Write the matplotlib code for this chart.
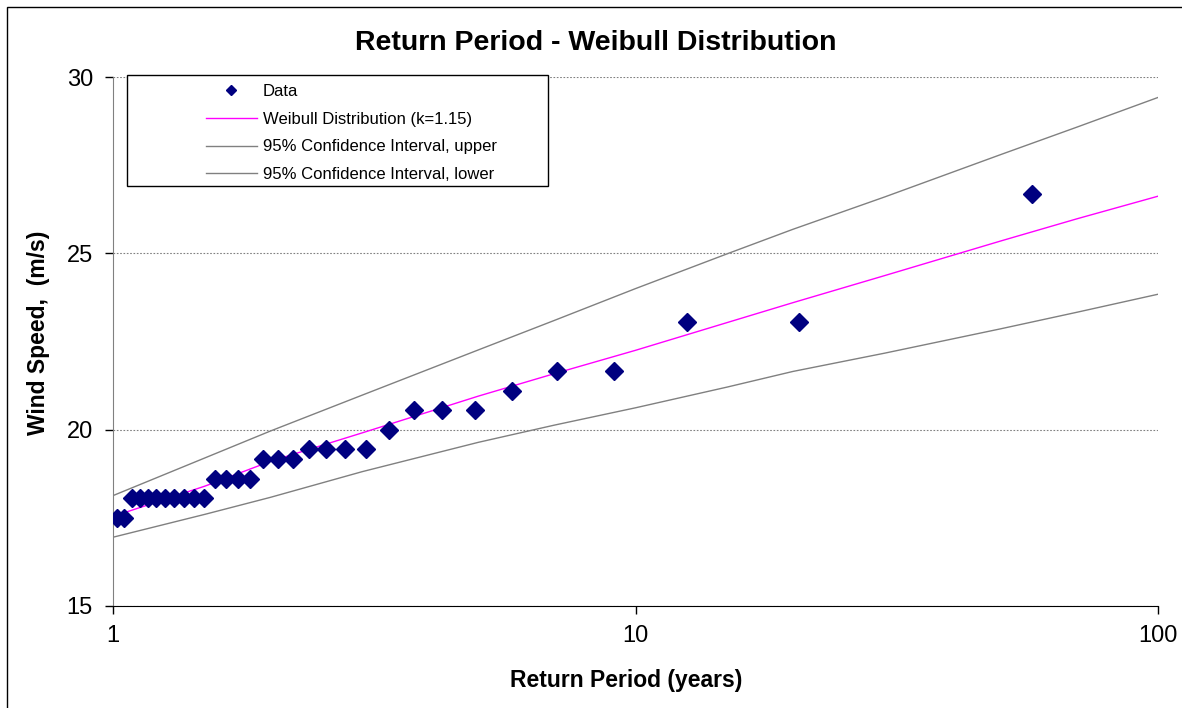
import matplotlib.pyplot as plt
from matplotlib.patches import Rectangle
from matplotlib.ticker import FixedLocator, NullLocator, FixedFormatter

plt.rcParams['font.family'] = ['Liberation Sans', 'DejaVu Sans']

# ranked annual maximum wind speeds (m/s) against return period (years)
period = [57.36, 20.59, 12.55, 9.093, 7.088, 5.807, 4.919, 4.266, 3.765, 3.369,
          3.049, 2.784, 2.562, 2.371, 2.208, 2.066, 1.941, 1.831, 1.733, 1.645,
          1.566, 1.493, 1.427, 1.366, 1.310, 1.259, 1.211, 1.167, 1.126, 1.087,
          1.051, 1.018]
speed = [26.67, 23.06, 23.06, 21.67, 21.67, 21.11, 20.56, 20.56, 20.56, 20.00,
         19.44, 19.44, 19.44, 19.44, 19.17, 19.17, 19.17, 18.61, 18.61, 18.61,
         18.61, 18.06, 18.06, 18.06, 18.06, 18.06, 18.06, 18.06, 18.06, 18.06,
         17.50, 17.50]

# fitted curve and confidence bands
fit_period = [1, 1.5, 2, 3, 5, 7, 10, 15, 20, 30, 50, 70, 100]
fit_speed = [17.54, 18.40, 19.10, 19.91, 20.95, 21.59, 22.25, 23.04, 23.60,
             24.37, 25.35, 25.98, 26.62]
ci_upper = [18.13, 19.20, 19.96, 20.98, 22.26, 23.10, 24.00, 24.99, 25.68,
            26.60, 27.80, 28.58, 29.42]
ci_lower = [16.95, 17.60, 18.08, 18.81, 19.64, 20.13, 20.62, 21.21, 21.65,
            22.17, 22.86, 23.33, 23.84]

W, H = 1182, 708


def fx(px):
    return px / W


def fy(py):
    return 1 - py / H


fig = plt.figure(figsize=(W / 100, H / 100), dpi=100)
# chart-area border
fig.patches.append(Rectangle((fx(7), -0.1), 1.2, fy(7) + 0.1,
                             transform=fig.transFigure, fill=False,
                             edgecolor='black', linewidth=1.0))
ax = fig.add_axes([fx(113), fy(606), fx(1158) - fx(113), fy(77) - fy(606)])

ax.plot(period, speed, 'D', color='#000080', markersize=9.5, linestyle='none',
        label='Data', zorder=4)
ax.plot(fit_period, fit_speed, color='#FF00FF', linewidth=1.0,
        label='Weibull Distribution (k=1.15)', zorder=3)
ax.plot(fit_period, ci_upper, color='#808080', linewidth=1.0,
        label='95% Confidence Interval, upper', zorder=3)
ax.plot(fit_period, ci_lower, color='#808080', linewidth=1.0,
        label='95% Confidence Interval, lower', zorder=3)

ax.set_xscale('log')
ax.set_xlim(1, 100)
ax.set_ylim(15, 30)
ax.xaxis.set_major_locator(FixedLocator([1, 10, 100]))
ax.xaxis.set_major_formatter(FixedFormatter(['1', '10', '100']))
ax.xaxis.set_minor_locator(NullLocator())
ax.set_yticks([15, 20, 25, 30])

ax.grid(axis='y', color='#808080', linestyle=(0, (1.5, 1.5)), linewidth=0.8)
ax.set_axisbelow(True)
for side in ['top', 'right']:
    ax.spines[side].set_visible(False)
ax.spines['left'].set_color('#808080')
ax.spines['bottom'].set_color('black')
ax.tick_params(axis='both', direction='out', length=5.5, width=1, labelsize=17,
               colors='black')
ax.tick_params(axis='x', pad=8)
ax.tick_params(axis='y', pad=9)

fig.text(fx(596), fy(43), 'Return Period - Weibull Distribution', fontsize=20.5,
         fontweight='bold', ha='center', va='center')
fig.text(fx(626), fy(681), 'Return Period (years)', fontsize=16.5,
         fontweight='bold', ha='center', va='center')
fig.text(fx(39), fy(333), 'Wind Speed,  (m/s)', fontsize=16.5,
         fontweight='bold', ha='center', va='center', rotation=90)

# legend: entries without frame, box drawn separately
leg = fig.legend(*ax.get_legend_handles_labels(), loc='upper left',
                 bbox_to_anchor=(fx(206), fy(84)), fontsize=12, frameon=False,
                 markerscale=0.55, handlelength=3.05, handletextpad=0.36,
                 borderpad=0, labelspacing=0.76, borderaxespad=0)
fig.patches.append(Rectangle((fx(127), fy(186)), fx(548) - fx(127), fy(75) - fy(186),
                             transform=fig.transFigure, facecolor='white',
                             edgecolor='black', linewidth=1.0, zorder=1))

fig.savefig('out.png', dpi=100)
